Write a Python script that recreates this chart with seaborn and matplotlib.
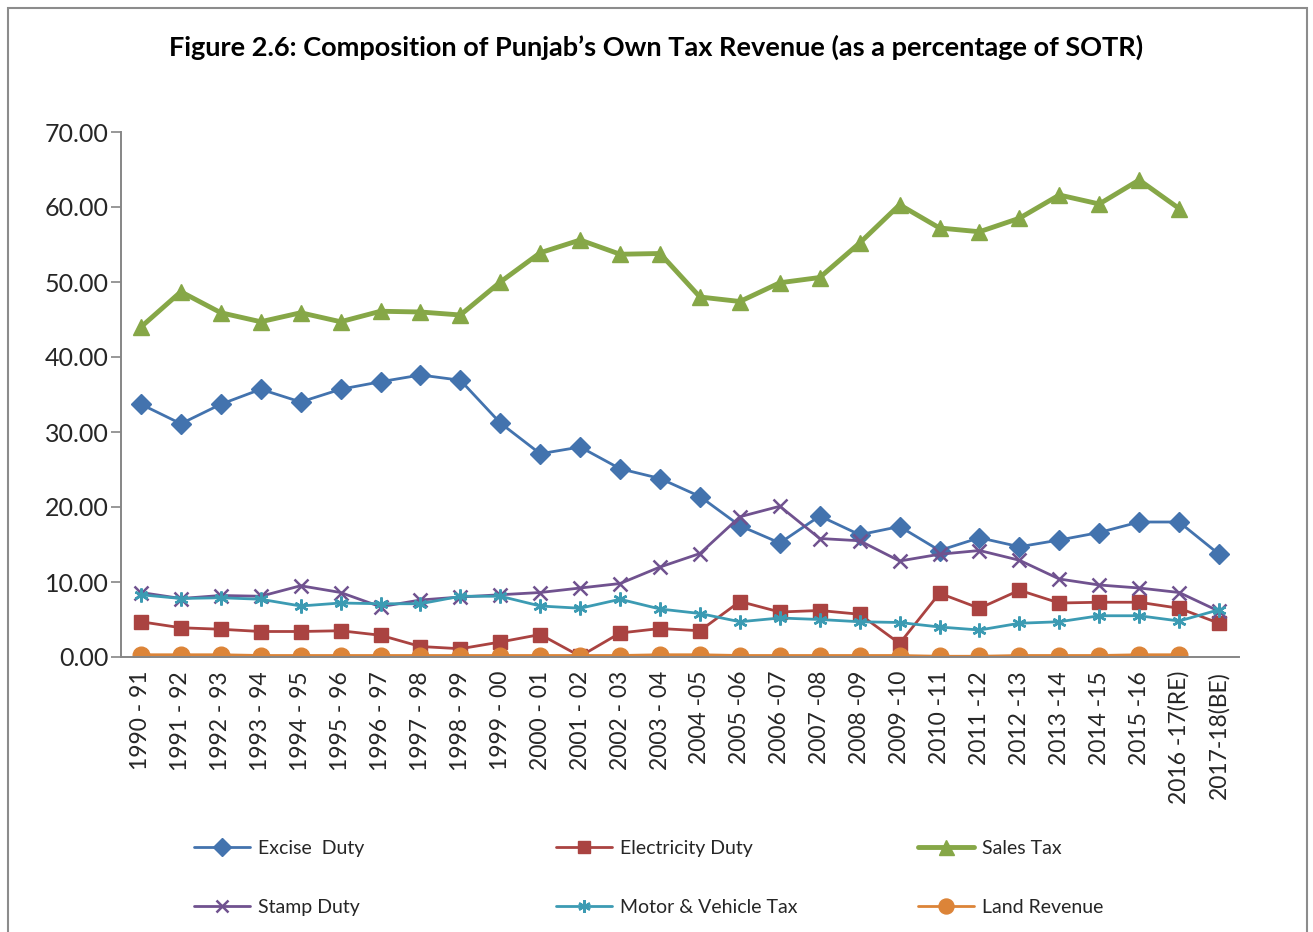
import numpy as np
import pandas as pd
import matplotlib
matplotlib.use("Agg")
import matplotlib.pyplot as plt
import seaborn as sns
from matplotlib.patches import Rectangle
from matplotlib.lines import Line2D

# ----------------------------------------
# DATA
# ----------------------------------------

years = ["1990 - 91", "1991 - 92", "1992 - 93", "1993 - 94", "1994 - 95",
         "1995 - 96", "1996 - 97", "1997 - 98", "1998 - 99", "1999 - 00",
         "2000 - 01", "2001 - 02", "2002 - 03", "2003 - 04", "2004 -05",
         "2005 -06", "2006 -07", "2007 -08", "2008 -09", "2009 -10",
         "2010 -11", "2011 -12", "2012 -13", "2013 -14", "2014 -15",
         "2015 -16", "2016 -17(RE)", "2017-18(BE)"]

excise_duty = [33.7, 31.1, 33.7, 35.7, 34.0, 35.7, 36.7, 37.6, 36.9, 31.2,
               27.1, 28.0, 25.1, 23.8, 21.4, 17.5, 15.2, 18.8, 16.3, 17.4,
               14.2, 15.9, 14.7, 15.6, 16.6, 18.0, 18.0, 13.7]

electricity_duty = [4.7, 3.9, 3.7, 3.4, 3.4, 3.5, 2.9, 1.4, 1.1, 2.0,
                    3.0, 0.1, 3.2, 3.8, 3.5, 7.4, 6.0, 6.2, 5.7, 1.8,
                    8.5, 6.5, 8.9, 7.2, 7.3, 7.3, 6.5, 4.5]

sales_tax = [44.0, 48.7, 45.9, 44.7, 45.9, 44.7, 46.1, 46.0, 45.6, 50.0,
             53.9, 55.6, 53.7, 53.8, 48.0, 47.4, 49.9, 50.6, 55.2, 60.3,
             57.2, 56.7, 58.5, 61.6, 60.4, 63.6, 59.8]

stamp_duty = [8.6, 7.8, 8.2, 8.1, 9.5, 8.6, 6.7, 7.6, 8.0, 8.3,
              8.6, 9.2, 9.8, 12.0, 13.8, 18.7, 20.1, 15.8, 15.5, 12.8,
              13.7, 14.2, 12.9, 10.4, 9.6, 9.2, 8.6, 6.1]

motor_vehicle_tax = [8.3, 7.8, 7.9, 7.7, 6.8, 7.2, 7.1, 7.1, 8.1, 8.1,
                     6.8, 6.5, 7.7, 6.4, 5.8, 4.7, 5.2, 5.0, 4.7, 4.6,
                     4.0, 3.6, 4.5, 4.7, 5.5, 5.5, 4.8, 6.3]

land_revenue = [0.3, 0.3, 0.3, 0.2, 0.2, 0.2, 0.2, 0.2, 0.2, 0.2,
                0.2, 0.2, 0.2, 0.3, 0.3, 0.2, 0.2, 0.2, 0.2, 0.2,
                0.1, 0.1, 0.2, 0.2, 0.2, 0.3, 0.3]

series = [
    ("Excise  Duty", excise_duty, "#4373AE", "D", 2.0, 10),
    ("Electricity Duty", electricity_duty, "#AA4341", "s", 2.0, 10),
    ("Sales Tax", sales_tax, "#86A747", "^", 3.5, 12),
    ("Stamp Duty", stamp_duty, "#70528F", "x", 2.0, 10),
    ("Motor & Vehicle Tax", motor_vehicle_tax, "#3C9BB3", (6, 2, 0), 2.0, 10),
    ("Land Revenue", land_revenue, "#DC8438", "o", 2.0, 12),
]

# ----------------------------------------
# PLOT
# ----------------------------------------

sns.set_theme(style="white")
plt.rcParams["font.family"] = ["Lato", "DejaVu Sans"]

fig = plt.figure(figsize=(13.13, 9.32), dpi=100)
ax = fig.add_axes([121 / 1313, 1 - 657 / 932, 1118 / 1313, 525 / 932])

handles = []
for name, vals, color, marker, lw, ms in series:
    df = pd.DataFrame({"x": np.arange(len(vals)), "y": vals})
    mew = 1.8 if marker in ("x", (6, 2, 0)) else 1.0
    sns.lineplot(data=df, x="x", y="y", ax=ax, color=color, linewidth=lw,
                 marker=marker, markersize=ms, markeredgecolor=color,
                 markerfacecolor=color, markeredgewidth=mew)
    handles.append(Line2D([0], [0], color=color, linewidth=lw, marker=marker,
                          markersize=ms * 0.9, markeredgecolor=color,
                          markerfacecolor=color, markeredgewidth=mew, label=name))

ax.set_xlim(-0.5, len(years) - 0.5)
ax.set_ylim(0, 70)
ax.set_yticks(np.arange(0, 71, 10))
ax.set_yticklabels([f"{v:.2f}" for v in np.arange(0, 71, 10)], fontsize=18)
ax.set_xticks(np.arange(len(years)))
ax.set_xticklabels(years, rotation=90, fontsize=16.5)
ax.set_xticks(np.arange(-0.5, len(years), 1), minor=True)
ax.tick_params(axis="x", which="major", length=0, pad=10)
ax.tick_params(axis="x", which="minor", length=7, color="#868686", width=1.2)
ax.tick_params(axis="y", length=7, color="#868686", width=1.2, pad=2, left=True)
ax.set_xlabel("")
ax.set_ylabel("")
for side in ("top", "right"):
    ax.spines[side].set_visible(False)
for side in ("left", "bottom"):
    ax.spines[side].set_color("#868686")
    ax.spines[side].set_linewidth(1.4)
ax.grid(False)

fig.text(0.5, 1 - 47 / 932,
         "Figure 2.6: Composition of Punjab\u2019s Own Tax Revenue (as a percentage of SOTR)",
         ha="center", va="center", fontsize=19.5, fontweight="bold", color="black")

# legend: three columns, each its own legend box
col_x = [186, 548, 910]
for i, cx in enumerate(col_x):
    fig.legend(handles=[handles[i], handles[i + 3]], loc="upper left",
               bbox_to_anchor=(cx / 1313, 1 - 832 / 932), frameon=False,
               fontsize=14, handlelength=2.9, handletextpad=0.4,
               labelspacing=2.15, borderaxespad=0)

# outer chart border
fig.patches.append(Rectangle((8 / 1313, -0.01), 1299 / 1313, 1 - 8 / 932 + 0.01,
                             transform=fig.transFigure, fill=False,
                             edgecolor="#8C8C8C", linewidth=1.5))

fig.savefig("out.png", dpi=100)
